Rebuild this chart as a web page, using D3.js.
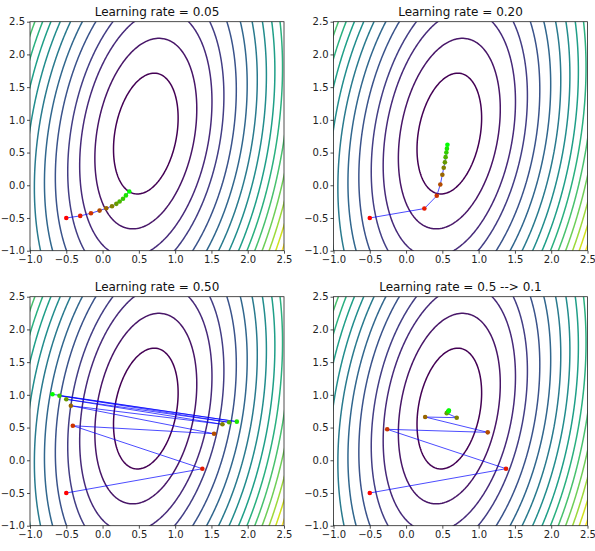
<!DOCTYPE html>
<html>
<head>
<meta charset="utf-8">
<script src="https://cdn.jsdelivr.net/npm/d3@7"></script>
<style>
  body { margin: 0; background: #fff; }
  svg { display: block; font-family: "DejaVu Sans", sans-serif; }
</style>
</head>
<body>
<div id="chart"></div>
<script>
// loss surface: centre of the ellipses and the curvature
var center = [0.596, 0.79];
var hessian = [[4.0, -0.5], [-0.5, 0.93]];
// contour levels (estimated from ring spacing)
var levels = [0.37, 0.92, 1.55, 2.16, 2.9, 3.64, 4.4, 5.15, 5.9, 6.62, 7.34, 8.06, 8.78, 9.5, 10.22];

var ticks = [-1.0, -0.5, 0.0, 0.5, 1.0, 1.5, 2.0, 2.5];
var titles = ["Learning rate = 0.05", "Learning rate = 0.20", "Learning rate = 0.50", "Learning rate = 0.5 --> 0.1"];

// gradient descent iterates
var pathLr005X = [-0.5, -0.308, -0.16, -0.041, 0.051, 0.13, 0.19, 0.235, 0.282, 0.322, 0.368];
var pathLr005Y = [-0.5, -0.468, -0.428, -0.387, -0.351, -0.32, -0.284, -0.249, -0.207, -0.155, -0.095];
var pathLr020X = [-0.5, 0.252, 0.423, 0.472, 0.5, 0.519, 0.535, 0.545, 0.555, 0.563, 0.57];
var pathLr020Y = [-0.5, -0.356, -0.161, 0.012, 0.16, 0.268, 0.35, 0.43, 0.5, 0.56, 0.62];
var pathLr050X = [-0.5, 1.375, -0.41, 1.536, -0.437, 1.652, -0.5, 1.744, -0.594, 1.85, -0.69];
var pathLr050Y = [-0.5, -0.129, 0.528, 0.406, 0.834, 0.55, 0.932, 0.58, 0.987, 0.59, 1.008];
var pathDecayX = [-0.5, 1.377, -0.26, 1.125, 0.263, 0.698, 0.56, 0.575, 0.584, 0.588, 0.59];
var pathDecayY = [-0.5, -0.129, 0.473, 0.427, 0.661, 0.651, 0.72, 0.738, 0.75, 0.756, 0.76];

var W = 595, H = 551;
var pw = 254, ph = 229;
var panels = [
  { left: 30, top: 21.7, xs: pathLr005X, ys: pathLr005Y },
  { left: 333.5, top: 21.7, xs: pathLr020X, ys: pathLr020Y },
  { left: 30, top: 296.7, xs: pathLr050X, ys: pathLr050Y },
  { left: 333.5, top: 296.7, xs: pathDecayX, ys: pathDecayY }
];

var svg = d3.select("#chart").append("svg")
  .attr("width", W)
  .attr("height", H);

// sample the surface on a grid a bit larger than the axes, clip later
var g0 = -1.3, g1 = 2.8, n = 170;
var step = (g1 - g0) / n;
var values = new Array(n * n);
for (var j = 0; j < n; j++) {
  for (var i = 0; i < n; i++) {
    var dx = g0 + (i + 0.5) * step - center[0];
    var dy = g0 + (j + 0.5) * step - center[1];
    values[i + j * n] = 0.5 * (hessian[0][0] * dx * dx + 2 * hessian[0][1] * dx * dy + hessian[1][1] * dy * dy);
  }
}
var contours = d3.contours().size([n, n]).thresholds(levels)(values);

var color = d3.scaleSequential(d3.interpolateViridis).domain([levels[0], levels[levels.length - 1]]);
var dotColor = d3.interpolateRgb("#ff0000", "#00ff00");
var fmt = d3.format(".1f");

panels.forEach(function(p, k) {
  var xScale = d3.scaleLinear().domain([-1, 2.5]).range([0, pw]);
  var yScale = d3.scaleLinear().domain([-1, 2.5]).range([ph, 0]);

  var g = svg.append("g")
    .attr("transform", "translate(" + p.left + "," + p.top + ")");

  g.append("clipPath").attr("id", "clip" + k)
    .append("rect").attr("width", pw).attr("height", ph);

  var proj = d3.geoTransform({
    point: function(x, y) {
      this.stream.point(xScale(g0 + x * step), yScale(g0 + y * step));
    }
  });
  var path = d3.geoPath(proj);

  var plot = g.append("g").attr("clip-path", "url(#clip" + k + ")");

  plot.selectAll("path.contour")
    .data(contours)
    .enter().append("path")
    .attr("class", "contour")
    .attr("d", path)
    .attr("fill", "none")
    .attr("stroke", function(d) { return color(d.value); })
    .attr("stroke-width", 1.5);

  var pts = p.xs.map(function(x, i) { return [x, p.ys[i]]; });

  plot.append("path")
    .datum(pts)
    .attr("fill", "none")
    .attr("stroke", "#0000ff")
    .attr("stroke-opacity", 0.7)
    .attr("stroke-width", 1)
    .attr("d", d3.line()
      .x(function(d) { return xScale(d[0]); })
      .y(function(d) { return yScale(d[1]); }));

  plot.selectAll("circle")
    .data(pts)
    .enter().append("circle")
    .attr("cx", function(d) { return xScale(d[0]); })
    .attr("cy", function(d) { return yScale(d[1]); })
    .attr("r", 2.3)
    .attr("fill", function(d, i) { return dotColor(i / (pts.length - 1)); });

  var xAxis = g.append("g")
    .attr("transform", "translate(0," + ph + ")")
    .call(d3.axisBottom(xScale).tickValues(ticks).tickFormat(fmt).tickSizeOuter(0).tickSize(3).tickPadding(2));
  var yAxis = g.append("g")
    .call(d3.axisLeft(yScale).tickValues(ticks).tickFormat(fmt).tickSizeOuter(0).tickSize(3).tickPadding(2));

  [xAxis, yAxis].forEach(function(ax) {
    ax.select(".domain").remove();
    ax.selectAll("line").attr("stroke", "#222").attr("stroke-width", 0.8);
    ax.selectAll("text")
      .attr("fill", "#222")
      .style("font-size", "10px")
      .style("font-family", "DejaVu Sans, sans-serif");
  });

  g.append("rect")
    .attr("width", pw)
    .attr("height", ph)
    .attr("fill", "none")
    .attr("stroke", "#222")
    .attr("stroke-width", 0.8);

  g.append("text")
    .attr("x", pw / 2)
    .attr("y", -6)
    .attr("text-anchor", "middle")
    .attr("fill", "#111")
    .style("font-size", "12px")
    .text(titles[k]);
});
</script>
</body>
</html>
